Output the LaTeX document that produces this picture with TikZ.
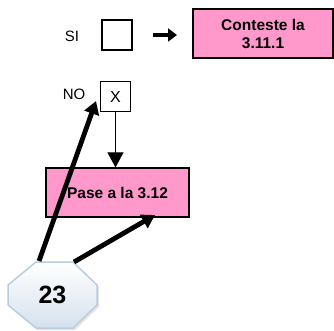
\documentclass[tikz,border=0pt]{standalone}
\usepackage{fontspec}
\setmainfont{Liberation Sans}
\usetikzlibrary{arrows.meta,calc}
\definecolor{pinkfill}{HTML}{FF99CC}
\definecolor{octborder}{HTML}{B9CDE2}
\definecolor{octbottom}{HTML}{D6E1EE}
\begin{document}
\begin{tikzpicture}[x=1pt,y=-1pt,
  lab/.style={inner sep=0pt,font=\fontsize{15}{17}\selectfont},
  chk/.style={draw,line width=1.1pt,minimum width=30pt,minimum height=30pt,inner sep=0pt,font=\fontsize{16}{18}\selectfont},
  pbox/.style={draw,line width=1.2pt,fill=pinkfill,inner sep=0pt,align=center,font=\fontsize{15.5}{17}\selectfont\bfseries},
  thick arrow/.style={line width=4.8pt,-{Triangle[length=13pt,width=15pt]}},
  thin arrow/.style={line width=1pt,-{Triangle[length=15pt,width=16pt]}}]
\useasboundingbox (0,0) rectangle (334,330);
% top row
\node[lab] (si) at (72,36.5) {SI};
\node[chk] (sibox) at (117,35) {};
\coordinate (ra) at (153,35);
\coordinate (rb) at (177,35);
\draw[line width=4pt,-{Triangle[length=9pt,width=13pt]}] (ra) -- (rb);
\node[pbox,minimum width=140pt,minimum height=49pt] (conteste) at (263,33.5) {Conteste la\\[1pt]3.11.1};
% second row
\node[lab] (no) at (74,94.5) {NO};
\node[chk] (xbox) at (115.5,96.5) {X};
\node[pbox,minimum width=143pt,minimum height=49pt] (pase) at (117.5,192.5) {Pase a la 3.12};
\draw[thin arrow] (xbox.south) -- (xbox.south |- pase.north);
% octagon
\fill[gray!35,opacity=0.6] (38,264) -- (75,264) -- (99,287) -- (99,307) -- (75,330) -- (38,330) -- (10,307) -- (10,287) -- cycle;
\draw[line width=1.5pt,draw=octborder,top color=white,bottom color=octbottom]
  (36,262) -- (73,262) -- (97,285) -- (97,305) -- (73,328) -- (36,328) -- (8,305) -- (8,285) -- cycle;
\node[inner sep=0pt,font=\fontsize{25}{27}\selectfont\bfseries] (oct) at (52.5,295) {23};
\coordinate (o1) at (39,261);
\coordinate (o2) at (74,262);
\coordinate (t1) at (96,101);
\coordinate (t2) at (155,215);
\draw[thick arrow] (o1) -- (t1);
\draw[thick arrow] (o2) -- (t2);
\end{tikzpicture}
\end{document}
